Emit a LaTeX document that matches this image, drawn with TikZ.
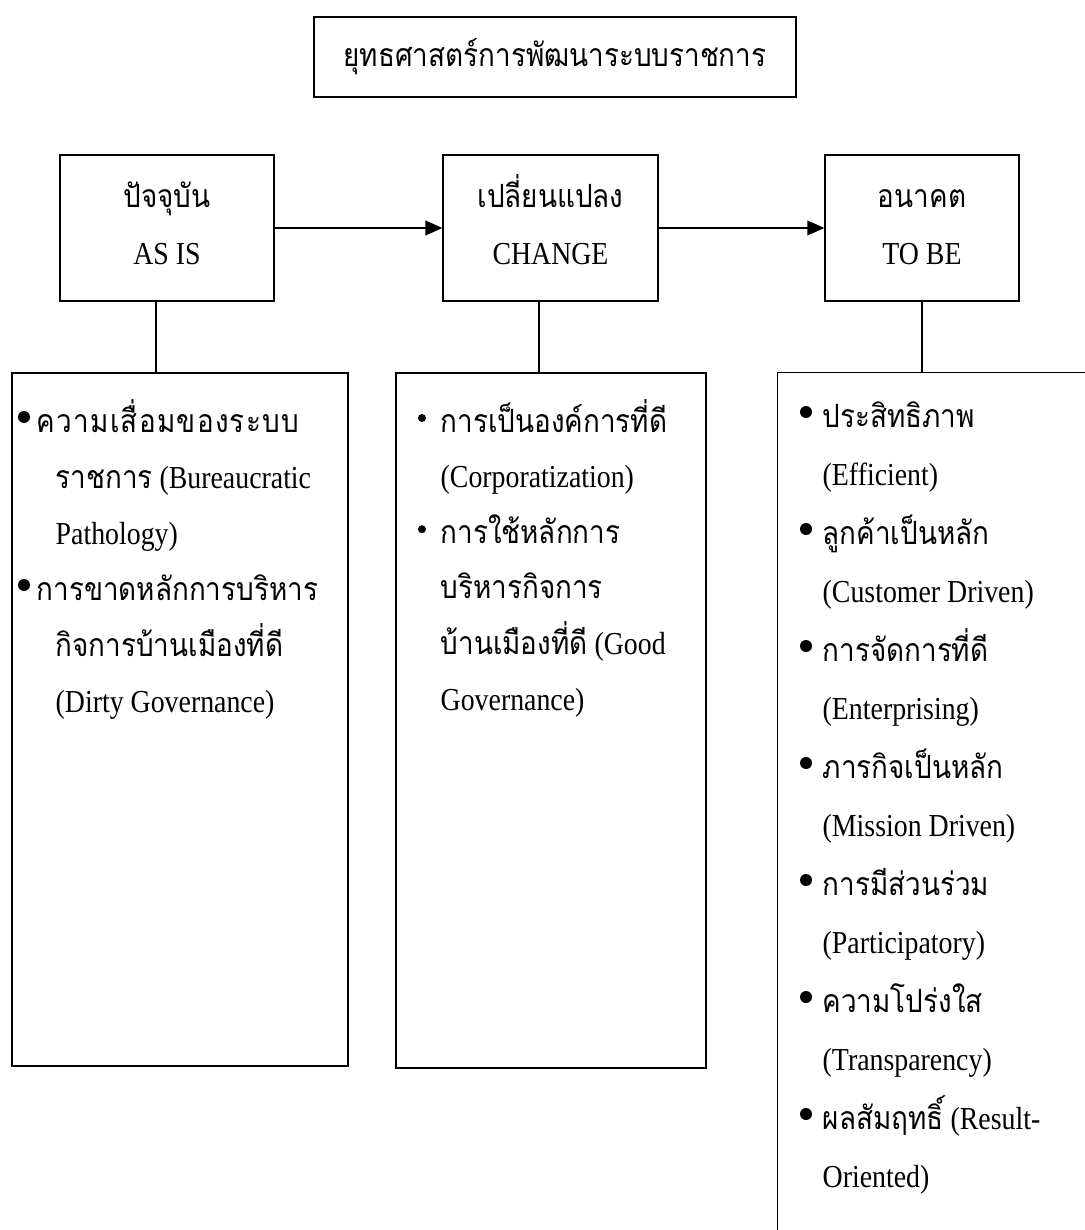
\documentclass[tikz,border=0pt]{standalone}
\usepackage{fontspec}
\setmainfont{Liberation Serif}[FakeStretch=0.87]
\newfontfamily\thf[Script=Thai,FakeStretch=0.87]{Loma}
\newfontfamily\thfw[Script=Thai,FakeStretch=0.87,LetterSpace=4]{Loma}
\newcommand{\T}[1]{{\thf #1}}
\newcommand{\TW}[1]{{\thfw #1}}
\usetikzlibrary{arrows.meta}
\begin{document}
\begin{tikzpicture}[x=1pt,y=-1pt,line width=1.4pt,
  box/.style={draw,inner sep=0pt},
  txt/.style={anchor=base west,inner sep=0pt,font=\fontsize{32}{32}\selectfont},
  ctxt/.style={anchor=base,inner sep=0pt,font=\fontsize{32}{32}\selectfont},
  bul/.style={circle,fill,inner sep=0pt,minimum size=12pt},
  sbul/.style={circle,fill,inner sep=0pt,minimum size=8pt},
  arr/.style={-{Triangle[length=17pt,width=15pt]}}]
\useasboundingbox (0,0) rectangle (1084,1230);
% title
\node[box,minimum width=482pt,minimum height=80pt] (title) at (555,57) {};
\node[ctxt] (titletxt) at (555,67) {\T{ยุทธศาสตร์การพัฒนาระบบราชการ}};
% top boxes
\node[box,minimum width=214pt,minimum height=146pt] (asis) at (167,228) {};
\node[box,minimum width=215pt,minimum height=146pt] (change) at (550.5,228) {};
\node[box,minimum width=194pt,minimum height=146pt] (tobe) at (922,228) {};
\node[ctxt] (asis1) at (167,208) {\T{ปัจจุบัน}};
\node[ctxt] (asis2) at (167,265) {AS IS};
\node[ctxt] (change1) at (550.5,208) {\T{เปลี่ยนแปลง}};
\node[ctxt] (change2) at (550.5,265) {CHANGE};
\node[ctxt] (tobe1) at (922,208) {\T{อนาคต}};
\node[ctxt] (tobe2) at (922,265) {TO BE};
\draw[arr] (asis.east) -- (change.west);
\draw[arr] (change.east) -- (tobe.west);
% lower boxes
\node[box,minimum width=336pt,minimum height=693pt] (lbox) at (180,719.5) {};
\node[box,minimum width=310pt,minimum height=695pt] (mbox) at (551,720.5) {};
\node[inner sep=0pt,minimum width=320pt,minimum height=870pt] (rbox) at (938,808) {};
\draw (rbox.north east) -- (rbox.north west) -- (rbox.south west);
% connectors
\coordinate (xl) at (156,0);
\coordinate (xm) at (539,0);
\coordinate (xr) at (922,0);
\draw (asis.south -| xl) -- (lbox.north -| xl);
\draw (change.south -| xm) -- (mbox.north -| xm);
\draw (tobe.south -| xr) -- (rbox.north -| xr);
% left box text
\node[txt] (l0) at (36,432) {\TW{ความเสื่อมของระบบ}};
\foreach \t [count=\i from 1] in {{\T{ราชการ} (Bureaucratic},{Pathology)}}
  \node[txt] (l\i) at (55,{432+56*\i}) {\t};
\node[txt] (l3) at (36,600) {\T{การขาดหลักการบริหาร}};
\foreach \t [count=\i from 4] in {{\T{กิจการบ้านเมืองที่ดี}},{(Dirty Governance)}}
  \node[txt] (l\i) at (55,{432+56*\i}) {\t};
\foreach \i in {0,3} \node[bul] (lb\i) at (24,{432+56*\i-15}) {};
% middle box text
\foreach \t [count=\i from 0] in {{\T{การเป็นองค์การที่ดี}},{(Corporatization)},{\T{การใช้หลักการ}},{\T{บริหารกิจการ}},{\T{บ้านเมืองที่ดี} (Good},{Governance)}}
  \node[txt] (m\i) at (440,{432+55.6*\i}) {\t};
\foreach \i in {0,2} \node[sbul] (mb\i) at (422,{432+55.6*\i-14}) {};
% right box text
\foreach \t [count=\i from 0] in {{\T{ประสิทธิภาพ}},{(Efficient)},{\T{ลูกค้าเป็นหลัก}},{(Customer Driven)},{\T{การจัดการที่ดี}},{(Enterprising)},{\T{ภารกิจเป็นหลัก}},{(Mission Driven)},{\T{การมีส่วนร่วม}},{(Participatory)},{\T{ความโปร่งใส}},{(Transparency)},{\T{ผลสัมฤทธิ์} (Result-},{Oriented)}}
  \node[txt] (r\i) at (822,{427+58.5*\i}) {\t};
\foreach \i in {0,2,...,12} \node[bul] (rb\i) at (806,{427+58.5*\i-15}) {};
\end{tikzpicture}
\end{document}
